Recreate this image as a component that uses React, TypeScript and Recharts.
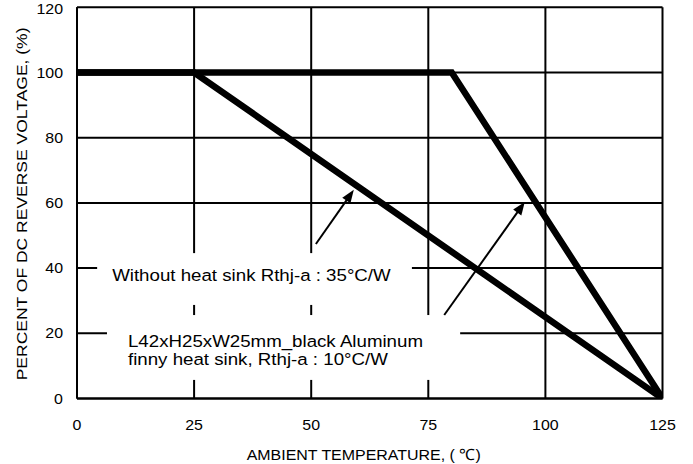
import React from "react";
import {
  LineChart,
  Line,
  XAxis,
  YAxis,
  CartesianGrid,
  ReferenceArea,
  ReferenceLine,
} from "recharts";

// ---- data ----
const temperatureTicks = [0, 25, 50, 75, 100, 125];
const percentTicks = [0, 20, 40, 60, 80, 100, 120];

const withoutSinkTemp = [0, 25, 125];
const withoutSinkPct = [100, 100, 0];

const finnySinkTemp = [0, 80, 125];
const finnySinkPct = [100, 100, 0];

const xTitle = "AMBIENT TEMPERATURE, ( \u2103)";
const yTitle = "PERCENT OF DC REVERSE VOLTAGE, (%)";
const note1 = "Without heat sink Rthj-a : 35°C/W";
const note2 = ["L42xH25xW25mm_black Aluminum", "finny heat sink, Rthj-a : 10°C/W"];

// annotation boxes (data coordinates)
const box1 = { x1: 4.3, x2: 71.5, y1: 28.7, y2: 44.6 };
const box2 = { x1: 6.4, x2: 81.8, y1: 5.7, y2: 25.6 };
// arrows (data coordinates): start -> tip
const arrow1 = [{ x: 51.0, y: 47.4 }, { x: 59.1, y: 64.0 }];
const arrow2 = [{ x: 78.4, y: 25.6 }, { x: 95.6, y: 60.3 }];

const withoutData = withoutSinkTemp.map((t, i) => ({ t, v: withoutSinkPct[i] }));
const finnyData = finnySinkTemp.map((t, i) => ({ t, v: finnySinkPct[i] }));

const FONT = "'Liberation Sans', Arial, Helvetica, sans-serif";
const SX = 1.1;

function SText(props: any) {
  const { x, y, anchor = "start", size = 14, rotate = false, sx = SX, children } = props;
  return (
    <text
      transform={`translate(${x},${y})${rotate ? " rotate(-90)" : ""} scale(${sx},1)`}
      textAnchor={anchor}
      fontSize={size}
      fontFamily={FONT}
      fill="#000"
    >
      {children}
    </text>
  );
}

const XTick = (p: any) => (
  <SText x={p.x} y={p.y + 31.5} anchor="middle" size={14.5}>
    {p.payload.value}
  </SText>
);

const YTick = (p: any) => (
  <SText x={p.x - 14} y={p.y + 5} anchor="end" size={14.5}>
    {p.payload.value}
  </SText>
);

const XTitle = (p: any) => {
  const vb = p.viewBox || { x: 77, y: 398.5, width: 585.5, height: 65.5 };
  return (
    <SText x={vb.x + vb.width / 2 - 6} y={vb.y + 61.5} anchor="middle" size={15.5} sx={1.03}>
      {xTitle}
    </SText>
  );
};

const YTitle = (p: any) => {
  const vb = p.viewBox || { x: 0, y: 7.3, width: 77, height: 391.2 };
  return (
    <SText x={vb.x + 27} y={vb.y + vb.height / 2 + 1} anchor="middle" size={15.5} rotate sx={1.13}>
      {yTitle}
    </SText>
  );
};

const Box1 = (p: any) => (
  <g>
    <rect x={p.x} y={p.y} width={p.width} height={p.height} fill="#fff" />
    <SText x={p.x + 15} y={p.y + 28} size={17}>
      {note1}
    </SText>
  </g>
);

const Box2 = (p: any) => (
  <g>
    <rect x={p.x} y={p.y} width={p.width} height={p.height} fill="#fff" />
    <SText x={p.x + 21} y={p.y + 32} size={17}>
      {note2[0]}
    </SText>
    <SText x={p.x + 21} y={p.y + 50} size={17}>
      {note2[1]}
    </SText>
  </g>
);

const Arrow = (p: any) => {
  const { x1, y1, x2, y2 } = p;
  const dx = x2 - x1;
  const dy = y2 - y1;
  const len = Math.hypot(dx, dy) || 1;
  const ux = dx / len;
  const uy = dy / len;
  const hl = 13;
  const hw = 5;
  const bx = x2 - ux * hl;
  const by = y2 - uy * hl;
  const nx = -uy;
  const ny = ux;
  return (
    <g>
      <line x1={x1} y1={y1} x2={bx + ux * 2} y2={by + uy * 2} stroke="#000" strokeWidth={2} />
      <polygon
        points={`${x2},${y2} ${bx + nx * hw},${by + ny * hw} ${bx - nx * hw},${by - ny * hw}`}
        fill="#000"
      />
    </g>
  );
};

export default function App() {
  return (
    <div style={{ position: "absolute", left: 0, top: 0, width: 693, height: 464, background: "#fff" }}>
      <LineChart
        width={693}
        height={464}
        margin={{ top: 7.3, right: 30.5, bottom: 0, left: 0 }}
      >
        <CartesianGrid stroke="#000" strokeWidth={2} strokeOpacity={1} />
        <XAxis
          type="number"
          dataKey="t"
          domain={[0, 125]}
          ticks={temperatureTicks}
          allowDataOverflow
          height={65.5}
          tickSize={0}
          tickMargin={0}
          tickLine={false}
          axisLine={{ stroke: "#000", strokeWidth: 2 }}
          tick={<XTick />}
          label={{ content: (p: any) => <XTitle {...p} /> }}
        />
        <YAxis
          type="number"
          dataKey="v"
          domain={[0, 120]}
          ticks={percentTicks}
          allowDataOverflow
          width={77}
          tickSize={0}
          tickMargin={0}
          tickLine={false}
          axisLine={{ stroke: "#000", strokeWidth: 2 }}
          tick={<YTick />}
          label={{ content: (p: any) => <YTitle {...p} /> }}
        />
        <ReferenceArea {...box1} shape={(p: any) => <Box1 {...p} />} />
        <ReferenceArea {...box2} shape={(p: any) => <Box2 {...p} />} />
        <Line
          data={finnyData}
          dataKey="v"
          type="linear"
          stroke="#000"
          strokeWidth={6.5}
          dot={false}
          activeDot={false}
          isAnimationActive={false}
        />
        <Line
          data={withoutData}
          dataKey="v"
          type="linear"
          stroke="#000"
          strokeWidth={6.5}
          dot={false}
          activeDot={false}
          isAnimationActive={false}
        />
        <ReferenceLine segment={arrow1} shape={(p: any) => <Arrow {...p} />} />
        <ReferenceLine segment={arrow2} shape={(p: any) => <Arrow {...p} />} />
      </LineChart>
    </div>
  );
}
